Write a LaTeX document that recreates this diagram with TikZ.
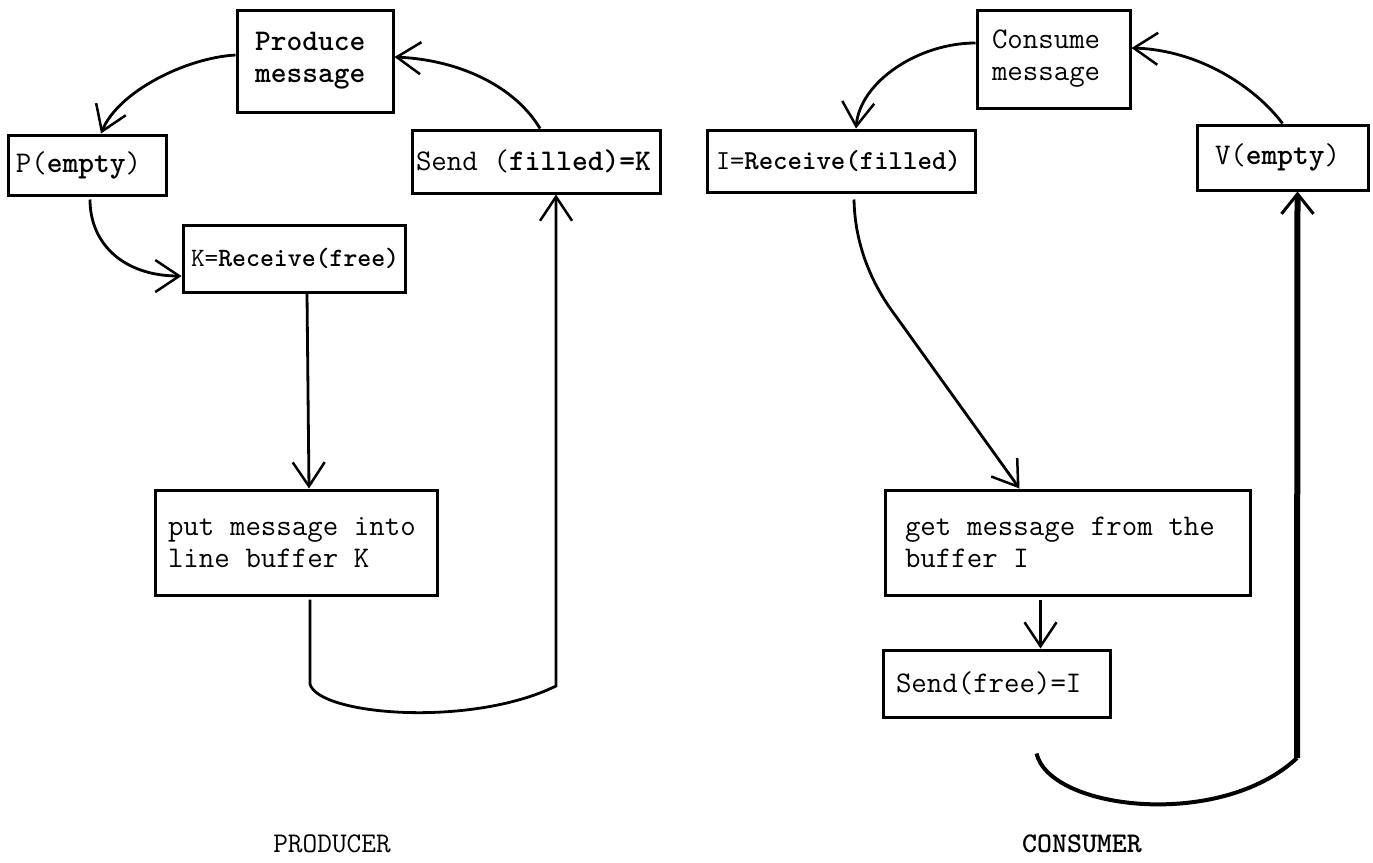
\documentclass[tikz,border=0pt]{standalone}
\usepackage{fontspec}
\usetikzlibrary{arrows.meta}
\newcommand\bxf{\ttfamily\fontsize{30}{32}\selectfont}
\newcommand\bxs{\ttfamily\fontsize{26.5}{32}\selectfont}
\newcommand\bxm{\ttfamily\fontsize{27.5}{32}\selectfont}
\newcommand\tsp{\kern0.525em\relax}
\begin{document}
\begin{tikzpicture}[x=1pt,y=-1pt,
  box/.style={draw, line width=3pt, align=left, font=\bxf, inner ysep=0pt},
  conn/.style={line width=2.8pt, -{Straight Barb[length=24pt,width=32pt,line width=2.5pt]}},
  lab/.style={font=\ttfamily\fontsize{28.5}{30}\selectfont, inner sep=0pt}]
\useasboundingbox (0,0) rectangle (1373,862);
% producer boxes
\node[box, text width=120pt, inner xsep=18pt, minimum width=156pt, minimum height=102pt] (prod) at (315,61) {\bfseries Produce\\\bfseries message};
\node[box, text width=142pt, inner xsep=8pt, minimum width=158pt, minimum height=60pt] (pe) at (87,165) {P(\textbf{empty})};
\node[box, font=\bxs, text width=206pt, inner xsep=8pt, minimum width=222pt, minimum height=67pt] (krec) at (294,258.5) {K=\textbf{Receive(free)}};
\node[box, text width=240pt, inner xsep=4pt, minimum width=248pt, minimum height=63pt] (sendk) at (536,161.5) {Send\tsp(\textbf{filled)=K}};
\node[box, text width=256pt, inner xsep=13pt, minimum width=282pt, minimum height=105pt] (put) at (296,542.5) {put\tsp message\tsp into\\line\tsp buffer\tsp K};
% consumer boxes
\node[box, text width=123pt, inner xsep=15pt, minimum width=153pt, minimum height=98pt] (cons) at (1053.5,59) {Consume\\message};
\node[box, font=\bxm, text width=250pt, inner xsep=9pt, minimum width=268pt, minimum height=62pt] (irec) at (841,161) {I=\textbf{Receive(filled)}};
\node[box, text width=135pt, inner xsep=18pt, minimum width=171pt, minimum height=65pt] (ve) at (1282.5,157.5) {V(\textbf{empty})};
\node[box, text width=325pt, inner xsep=20pt, minimum width=365pt, minimum height=105pt] (get) at (1067.5,542.5) {get\tsp message\tsp from\tsp the\\buffer\tsp I};
\node[box, text width=201pt, inner xsep=13pt, minimum width=227pt, minimum height=67pt] (sfree) at (996.5,683.5) {Send(free)=I};
% labels
\node[lab, anchor=base] (plab) at (332,852) {PRODUCER};
\node[lab, anchor=base, font=\ttfamily\bfseries\fontsize{28.5}{30}\selectfont] (clab) at (1082,852) {CONSUMER};
% turning points
\coordinate (pturn) at (556,686);
\coordinate (cturn) at (1297,758);
% producer connectors
\draw[conn] ([yshift=6pt]prod.west) .. controls (185,58) and (118,92) .. ([xshift=14pt]pe.north);
\draw[conn] ([xshift=3pt,yshift=-3pt]pe.south) .. controls (90,245) and (125,276) .. ([yshift=-17.5pt]krec.west);
\draw[conn] ([xshift=4pt]sendk.north) .. controls (516,88) and (462,60) .. ([yshift=4pt]prod.east);
\draw[conn] ([xshift=13pt]krec.south) -- ([xshift=13pt]put.north);
\draw[conn] ([xshift=14pt,yshift=-3pt]put.south) -- (310,684) .. controls (318,715) and (470,728) .. (pturn) -- ([xshift=20pt]sendk.south);
% consumer connectors
\draw[conn] ([yshift=16pt]cons.west) .. controls (918,43) and (860,82) .. ([xshift=15pt]irec.north);
\draw[conn] (ve.north) .. controls (1256,88) and (1200,50) .. ([yshift=11pt]cons.east);
\draw[conn] ([xshift=13pt,yshift=-6pt]irec.south) .. controls (855,255) and (880,295) .. (895,315) -- ([xshift=-48pt]get.north);
\draw[conn] ([xshift=-27pt,yshift=-3pt]get.south) -- ([xshift=44pt]sfree.north);
\draw[line width=4pt] ([xshift=40pt,yshift=-35pt]sfree.south) .. controls (1050,810) and (1220,830) .. (cturn);
\draw[line width=6pt, -{Straight Barb[length=20pt,width=32pt,line width=3pt]}] (cturn) -- ([xshift=15pt]ve.south);
\end{tikzpicture}
\end{document}
